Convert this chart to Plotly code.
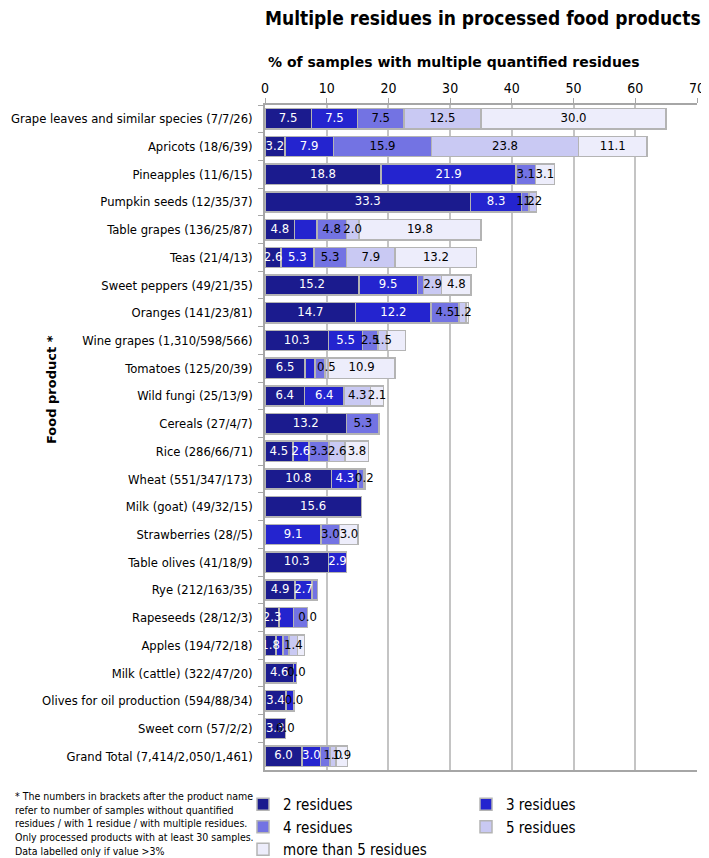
import plotly.graph_objects as go

categories = [
    "Grape leaves and similar species (7/7/26)",
    "Apricots (18/6/39)",
    "Pineapples (11/6/15)",
    "Pumpkin seeds (12/35/37)",
    "Table grapes (136/25/87)",
    "Teas (21/4/13)",
    "Sweet peppers (49/21/35)",
    "Oranges (141/23/81)",
    "Wine grapes (1,310/598/566)",
    "Tomatoes (125/20/39)",
    "Wild fungi (25/13/9)",
    "Cereals (27/4/7)",
    "Rice (286/66/71)",
    "Wheat (551/347/173)",
    "Milk (goat) (49/32/15)",
    "Strawberries (28//5)",
    "Table olives (41/18/9)",
    "Rye (212/163/35)",
    "Rapeseeds (28/12/3)",
    "Apples (194/72/18)",
    "Milk (cattle) (322/47/20)",
    "Olives for oil production (594/88/34)",
    "Sweet corn (57/2/2)",
    "Grand Total (7,414/2,050/1,461)",
]

series_names = ["2 residues", "3 residues", "4 residues", "5 residues", "more than 5 residues"]

res2 = [7.5, 3.2, 18.8, 33.3, 4.8, 2.6, 15.2, 14.7, 10.3, 6.5, 6.4, 13.2, 4.5, 10.8, 15.6, 0.0, 10.3, 4.9, 2.3, 1.8, 4.6, 3.4, 3.3, 6.0]
res3 = [7.5, 7.9, 21.9, 8.3, 3.6, 5.3, 9.5, 12.2, 5.5, 1.6, 6.4, 0.0, 2.6, 4.3, 0.0, 9.1, 2.9, 2.7, 2.3, 1.1, 0.5, 1.3, 0.0, 3.0]
res4 = [7.5, 15.9, 3.1, 1.2, 4.8, 5.3, 1.0, 4.5, 2.5, 1.6, 0.0, 5.3, 3.3, 0.9, 0.0, 3.0, 0.0, 0.9, 2.3, 1.0, 0.0, 0.0, 0.0, 1.5]
res5 = [12.5, 23.8, 0.0, 1.2, 2.0, 7.9, 2.9, 1.2, 1.5, 0.5, 4.3, 0.0, 2.6, 0.2, 0.0, 0.0, 0.0, 0.0, 0.0, 1.4, 0.0, 0.0, 0.0, 1.0]
res6 = [30.0, 11.1, 3.1, 0.0, 19.8, 13.2, 4.8, 0.4, 3.0, 10.9, 2.1, 0.0, 3.8, 0.0, 0.0, 3.0, 0.0, 0.0, 0.0, 1.1, 0.0, 0.0, 0.0, 1.9]

# data labels as printed in the reference ("" = not labelled)
lab2 = ["7.5", "3.2", "18.8", "33.3", "4.8", "2.6", "15.2", "14.7", "10.3", "6.5", "6.4", "13.2", "4.5", "10.8", "15.6", "", "10.3", "4.9", "2.3", "1.8", "4.6", "3.4", "3.3", "6.0"]
lab3 = ["7.5", "7.9", "21.9", "8.3", "", "5.3", "9.5", "12.2", "5.5", "", "6.4", "", "2.6", "4.3", "", "9.1", "2.9", "2.7", "", "", "", "", "", "3.0"]
lab4 = ["7.5", "15.9", "3.1", "1.2", "4.8", "5.3", "", "4.5", "2.5", "", "", "5.3", "3.3", "", "", "3.0", "", "", "", "", "", "", "", ""]
lab5 = ["12.5", "23.8", "", "1.2", "2.0", "7.9", "2.9", "1.2", "1.5", "0.5", "4.3", "", "2.6", "0.2", "", "", "", "", "0.0", "1.4", "", "", "", "1.0"]
lab6 = ["30.0", "11.1", "3.1", "", "19.8", "13.2", "4.8", "", "", "10.9", "2.1", "", "3.8", "", "", "3.0", "", "", "", "", "0.0", "0.0", "0.0", "1.9"]

x_ticks = [0, 10, 20, 30, 40, 50, 60, 70]

colors = ["#1B1B8E", "#2424CF", "#7373E3", "#C9C9F3", "#EDEDFB"]
label_colors = ["white", "white", "black", "black", "black"]
legend_ids = ["legend", "legend2", "legend", "legend2", "legend"]

FONT = "DejaVu Sans Condensed, Tahoma, DejaVu Sans, sans-serif"

values = [res2, res3, res4, res5, res6]
labels = [lab2, lab3, lab4, lab5, lab6]

fig = go.Figure()
for i, (name, vals, col) in enumerate(zip(series_names, values, colors)):
    fig.add_trace(go.Bar(
        name=name, y=categories, x=vals, orientation="h",
        marker=dict(color=col, line=dict(color="#B4B4B4", width=1.5)),
        hoverinfo="x+name", legend=legend_ids[i], legendgroup=f"g{i}",
    ))

# labels at segment centres
cum = [0.0] * len(categories)
for vals, labs, lc in zip(values, labels, label_colors):
    xs = [c + v / 2 for c, v in zip(cum, vals)]
    fig.add_trace(go.Scatter(
        x=xs, y=categories, mode="text", text=labs,
        textfont=dict(family=FONT, size=13, color=lc),
        textposition="middle center", showlegend=False, hoverinfo="skip",
        cliponaxis=False,
    ))
    cum = [c + v for c, v in zip(cum, vals)]

# page body has an 8px margin, so the figure is 8px smaller than the window
W, H = 701, 850
L, R, T, B = 257, 12, 97, 88
pw, ph = W - L - R, H - T - B

def px(xp):
    return (xp - L) / pw

def py(yp):
    return (H - B - yp) / ph

legend_common = dict(
    orientation="v", xanchor="left", yanchor="top", font=dict(size=15),
    traceorder="normal", bgcolor="rgba(0,0,0,0)", tracegroupgap=3, itemwidth=30,
)

fig.update_layout(
    width=W, height=H,
    margin=dict(l=L, r=R, t=T, b=B, autoexpand=False),
    barmode="stack", bargap=0.27,
    plot_bgcolor="white", paper_bgcolor="white",
    font=dict(family=FONT, size=13, color="black"),
    xaxis=dict(
        side="top", range=[0, 70], tickvals=x_ticks, ticktext=[str(t) for t in x_ticks],
        showgrid=True, gridcolor="#C4C4C4", gridwidth=1.5,
        showline=True, linecolor="#A6A6A6", linewidth=1.5, mirror=True,
        ticks="outside", ticklen=5, tickcolor="#A6A6A6",
        tickfont=dict(size=14), zeroline=False, fixedrange=True,
    ),
    yaxis=dict(
        type="category", range=[len(categories) - 0.5, -0.5],
        showline=True, linecolor="#A6A6A6", linewidth=1.5,
        ticks="outside", ticklen=5, tickcolor="#A6A6A6", tickson="boundaries",
        showgrid=False, tickfont=dict(size=12.9), ticklabelstandoff=8,
        fixedrange=True,
    ),
    legend=dict(x=px(235), y=py(780), **legend_common),
    legend2=dict(x=px(458), y=py(780), **legend_common),
    showlegend=True,
    annotations=[
        dict(text="<b>Multiple residues in processed food products</b>", x=px(695), y=py(10),
             xref="paper", yref="paper", xanchor="right", yanchor="middle", showarrow=False,
             font=dict(size=19)),
        dict(text="<b>% of samples with multiple quantified residues</b>", x=px(446), y=py(54),
             xref="paper", yref="paper", xanchor="center", yanchor="middle", showarrow=False,
             font=dict(size=14, family="DejaVu Sans, sans-serif")),
        dict(text="<b>Food product *</b>", x=px(43), y=py(382), textangle=-90,
             xref="paper", yref="paper", xanchor="center", yanchor="middle", showarrow=False,
             font=dict(size=13, family="DejaVu Sans, sans-serif")),
        dict(text="* The numbers in brackets after the product name<br>refer to number of samples without quantified<br>"
                  "residues / with 1 residue / with multiple residues.<br>Only processed products with at least 30 samples.<br>"
                  "Data labelled only if value >3%",
             x=px(5), y=py(780), xref="paper", yref="paper", xanchor="left", yanchor="top",
             align="left", showarrow=False, font=dict(size=10.5)),
    ],
)

fig.write_html("out.html")
